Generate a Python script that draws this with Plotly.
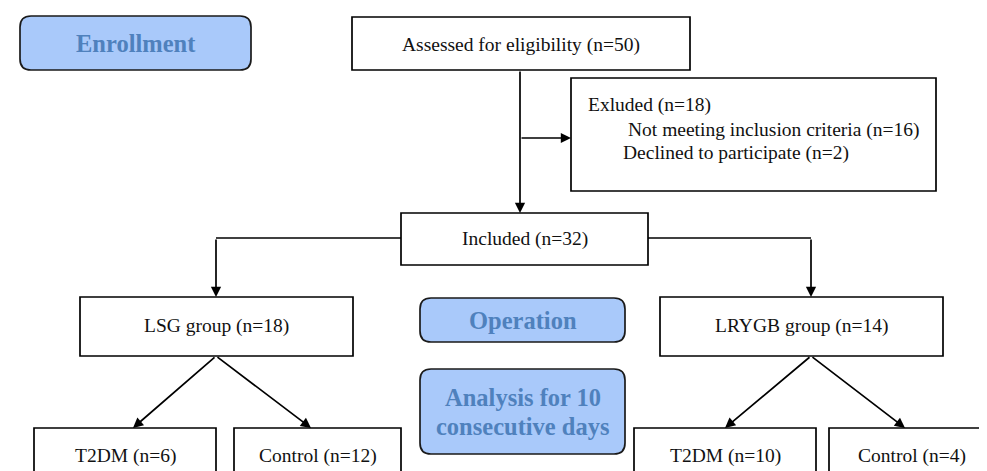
import plotly.graph_objects as go

# ---- data (text content) ----
box_labels = ["Assessed for eligibility", "Included", "LSG group", "LRYGB group",
              "T2DM", "Control", "T2DM", "Control"]
box_counts = [50, 32, 18, 14, 6, 12, 10, 4]
excluded_title = "Exluded"
excluded_count = 18
excluded_reasons = ["Not meeting inclusion criteria", "Declined to participate"]
excluded_reason_counts = [16, 2]
stage_labels = [["Enrollment"], ["Operation"], ["Analysis for 10", "consecutive days"]]

# ---- layout geometry (pixels, y downward) ----
W, H = 987, 471
box_pos = [(344, 682, 9, 62), (393, 640, 205, 257), (72, 345, 289, 348), (652, 935, 289, 348),
           (26, 208, 420, 500), (226, 393, 420, 500), (626, 808, 420, 500), (821, 986, 420, 500)]
text_y = [37, 231, 318, 318, 448, 448, 448, 448]
excl_pos = (563, 928, 70, 183)
excl_text = [(578, 97), (618, 122), (613, 145)]
stage_pos = [(12, 243, 8, 62), (412, 617, 290, 334), (412, 617, 361, 446)]
stage_text_y = [[35], [312], [389, 418]]

serif = "Liberation Serif, Times New Roman, serif"
line_col = "#000000"
lw = 1.7
fs = 19.5
fs_bold = 24.5

fig = go.Figure()
shapes = []
annotations = []

# plain boxes
for (x0, x1, y0, y1), lab, n, ty in zip(box_pos, box_labels, box_counts, text_y):
    shapes.append(dict(type="rect", xref="x", yref="y", x0=x0, x1=x1, y0=y0, y1=y1,
                       line=dict(color=line_col, width=lw), fillcolor="white"))
    annotations.append(dict(x=(x0 + x1) / 2, y=ty, xref="x", yref="y",
                            text=f"{lab} (n={n})", showarrow=False,
                            font=dict(family=serif, size=fs, color="#111")))

# excluded box
x0, x1, y0, y1 = excl_pos
shapes.append(dict(type="rect", xref="x", yref="y", x0=x0, x1=x1, y0=y0, y1=y1,
                   line=dict(color=line_col, width=lw), fillcolor="white"))
excl_lines = [f"{excluded_title} (n={excluded_count})"] + \
             [f"{r} (n={c})" for r, c in zip(excluded_reasons, excluded_reason_counts)]
for (tx, ty), t in zip(excl_text, excl_lines):
    annotations.append(dict(x=tx, y=ty, xref="x", yref="y", text=t, showarrow=False,
                            xanchor="left", font=dict(family=serif, size=fs, color="#111")))

# rounded stage boxes
def rounded(x0, x1, y0, y1, r=11):
    return (f"M{x0+r},{y0} L{x1-r},{y0} Q{x1},{y0} {x1},{y0+r} L{x1},{y1-r} "
            f"Q{x1},{y1} {x1-r},{y1} L{x0+r},{y1} Q{x0},{y1} {x0},{y1-r} "
            f"L{x0},{y0+r} Q{x0},{y0} {x0+r},{y0} Z")

for (x0, x1, y0, y1), lines, ys in zip(stage_pos, stage_labels, stage_text_y):
    shapes.append(dict(type="path", xref="x", yref="y", path=rounded(x0, x1, y0, y1),
                       line=dict(color="#1a1a1a", width=lw), fillcolor="#A9C9FA"))
    for line, ty in zip(lines, ys):
        annotations.append(dict(x=(x0 + x1) / 2, y=ty, xref="x", yref="y",
                                text=f"<b>{line}</b>", showarrow=False,
                                font=dict(family=serif, size=fs_bold, color="#4F81BD")))

# connector lines (no heads)
def seg(xa, ya, xb, yb):
    shapes.append(dict(type="line", xref="x", yref="y", x0=xa, y0=ya, x1=xb, y1=yb,
                       line=dict(color=line_col, width=lw)))

seg(393, 230, 208, 230)
seg(640, 230, 803, 230)

# arrows (tail -> head)
def arrow(xa, ya, xb, yb):
    annotations.append(dict(x=xb, y=yb, ax=xa, ay=ya, xref="x", yref="y", axref="x", ayref="y",
                            text="", showarrow=True, arrowhead=2, arrowsize=1.2,
                            arrowwidth=lw, arrowcolor=line_col, standoff=0))

arrow(512, 62, 512, 205)
arrow(512, 130, 563, 130)
arrow(208, 230, 208, 289)
arrow(803, 230, 803, 289)
arrow(208, 348, 125, 420)
arrow(208, 348, 303, 420)
arrow(803, 348, 717, 420)
arrow(803, 348, 897, 420)

fig.update_layout(
    width=W, height=H, margin=dict(l=0, r=0, t=0, b=0),
    paper_bgcolor="white", plot_bgcolor="white",
    xaxis=dict(range=[0, W], visible=False, fixedrange=True),
    yaxis=dict(range=[H, 0], visible=False, fixedrange=True),
    shapes=shapes, annotations=annotations, showlegend=False,
)

fig.write_html("out.html")
